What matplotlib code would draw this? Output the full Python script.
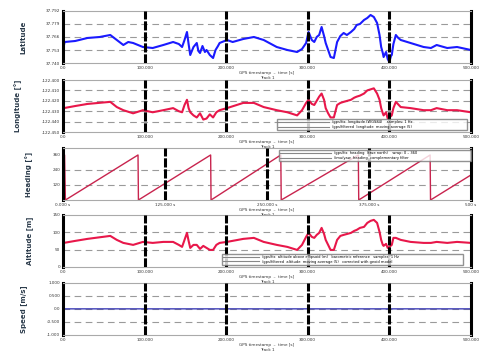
"""Five stacked GPS track panels: latitude, longitude, heading, altitude, vertical speed."""
import matplotlib
matplotlib.use('Agg')
import matplotlib.pyplot as plt
from matplotlib.lines import Line2D

# time stamps [s] for the latitude track
t_lat = [0, 2, 15, 30, 45, 58, 66, 74, 80, 86,
         98, 110, 123, 135, 142, 146, 149, 152, 154, 156,
         160, 164, 166, 168, 171, 174, 176, 180, 184, 187,
         190, 192, 201, 208, 221, 234, 246, 262, 275, 287,
         293, 298, 301, 305, 308, 311, 314, 317, 320, 322,
         325, 328, 332, 336, 340, 344, 348, 353, 357, 360,
         364, 369, 373, 377, 381, 385, 388, 390, 392, 393,
         396, 398, 400, 402, 403, 405, 408, 411, 414, 426,
         442, 451, 458, 471, 483, 500]
lat = [37.753, 37.761, 37.762, 37.765, 37.766, 37.768, 37.763, 37.758, 37.761, 37.760,
       37.756, 37.755, 37.758, 37.761, 37.759, 37.756, 37.763, 37.771, 37.759, 37.748,
       37.756, 37.760, 37.752, 37.750, 37.757, 37.751, 37.753, 37.748, 37.745, 37.753,
       37.757, 37.760, 37.763, 37.761, 37.764, 37.766, 37.763, 37.756, 37.753, 37.751,
       37.754, 37.760, 37.771, 37.763, 37.761, 37.766, 37.768, 37.776, 37.767, 37.760,
       37.753, 37.746, 37.745, 37.761, 37.767, 37.770, 37.768, 37.771, 37.774, 37.778,
       37.779, 37.783, 37.785, 37.788, 37.786, 37.780, 37.768, 37.756, 37.750, 37.746,
       37.751, 37.744, 37.741, 37.747, 37.748, 37.759, 37.768, 37.765, 37.763, 37.760,
       37.756, 37.755, 37.758, 37.755, 37.756, 37.753]

# time stamps [s] for longitude / altitude
t_pos = [0, 1, 15, 30, 58, 66, 74, 86, 98, 110,
         123, 135, 142, 146, 149, 152, 154, 156, 160, 164,
         168, 172, 176, 180, 184, 188, 192, 201, 221, 234,
         246, 262, 275, 287, 293, 298, 301, 305, 308, 311,
         314, 317, 320, 322, 325, 328, 332, 336, 340, 344,
         353, 357, 360, 364, 369, 373, 377, 381, 385, 388,
         390, 392, 393, 396, 398, 400, 403, 405, 408, 414,
         426, 442, 451, 458, 471, 483, 500]
lon = [-122.450, -122.427, -122.425, -122.423, -122.421, -122.426, -122.429, -122.432, -122.429, -122.431,
       -122.429, -122.427, -122.430, -122.431, -122.424, -122.419, -122.427, -122.431, -122.434, -122.436,
       -122.432, -122.438, -122.437, -122.433, -122.436, -122.431, -122.429, -122.427, -122.422, -122.422,
       -122.426, -122.429, -122.431, -122.434, -122.429, -122.422, -122.419, -122.423, -122.424, -122.420,
       -122.416, -122.413, -122.419, -122.427, -122.432, -122.436, -122.436, -122.424, -122.422, -122.421,
       -122.419, -122.417, -122.416, -122.415, -122.413, -122.410, -122.409, -122.408, -122.413, -122.419,
       -122.427, -122.432, -122.434, -122.431, -122.437, -122.436, -122.434, -122.427, -122.421, -122.426,
       -122.427, -122.429, -122.429, -122.427, -122.429, -122.429, -122.431]
alt = [0.0, 69.2, 75.0, 80.8, 89.4, 77.9, 69.2, 63.5, 72.1, 69.2,
       72.1, 72.1, 63.5, 57.7, 77.9, 98.1, 75.0, 54.8, 63.5, 63.5,
       51.9, 60.6, 54.8, 49.0, 49.0, 63.5, 69.2, 72.1, 80.8, 83.7,
       72.1, 63.5, 57.7, 49.0, 63.5, 86.6, 98.1, 86.6, 83.7, 92.3,
       98.1, 112.5, 95.2, 77.9, 63.5, 49.0, 49.0, 77.9, 89.4, 92.3,
       98.1, 103.9, 106.7, 112.5, 115.4, 126.9, 132.7, 135.6, 126.9, 101.0,
       77.9, 63.5, 60.6, 66.4, 54.8, 57.7, 63.5, 83.7, 83.7, 77.9,
       72.1, 69.2, 69.2, 72.1, 69.2, 72.1, 69.2]

# heading wraps 360 -> 0
t_head = [0, 1, 2, 3, 92, 92.5, 181, 181.5, 267, 267.5, 362, 362.5, 450, 450.5, 500]
head = [360, 0, 360, 0, 360, 0, 360, 0, 360, 0, 360, 0, 360, 0, 200]

t_vz = [0, 1, 500]
vz = [-1.0, 0.0, 0.0]

X5 = [0, 100, 200, 300, 400, 500]
X5_LABELS = ['0.0', '100.000', '200.000', '300.000', '400.000', '500.000']
X4 = [0, 125, 250, 375, 500]
X4_LABELS = ['0.000 s', '125.000 s', '250.000 s', '375.000 s', '500 s']
XLABEL = 'GPS timestamp  \u2013  time [s]\nTrack 1'

BLUE = '#1a1aff'
RED = '#e8174a'
GRID = '#9a9a9a'

fig = plt.figure(figsize=(4.88, 3.54), dpi=100)
LEFT, WIDTH = 0.129, 0.836
bottoms = [0.822, 0.627, 0.435, 0.246, 0.054]
HEIGHT = 0.147
axes = [fig.add_axes([LEFT, b, WIDTH, HEIGHT]) for b in bottoms]


def style(ax, xt, xl, yt, yl, ylim, ylabel):
    ax.set_xlim(0, 500)
    ax.set_ylim(*ylim)
    ax.set_xticks(xt)
    ax.set_xticklabels(xl)
    ax.set_yticks(yt)
    ax.set_yticklabels(yl)
    ax.tick_params(length=0, labelsize=3, pad=2, colors='#333333')
    for k in ('top', 'bottom'):
        ax.spines[k].set_color('#aaaaaa')
        ax.spines[k].set_linewidth(0.8)
    for k in ('left', 'right'):
        ax.spines[k].set_color('black')
        ax.spines[k].set_linewidth(2.2)
    for y in yt[1:-1]:
        ax.axhline(y, color=GRID, lw=0.8, ls=(0, (6, 4)), zorder=1)
    for x in xt[1:-1]:
        ax.axvline(x, color='black', lw=2.2, ls=(0, (3, 0.6)), zorder=3)
    ax.set_ylabel(ylabel, fontsize=5, fontweight='bold', color='#2a3a4a', labelpad=14)
    ax.set_xlabel(XLABEL, fontsize=3, color='#333333', labelpad=1)


def box(ax, labels, anchor, hl):
    handles = [Line2D([], [], color='#888888', lw=0.8) for _ in labels]
    ax.legend(handles, labels, loc='lower left', mode='expand', bbox_to_anchor=anchor,
              fontsize=2.6, handlelength=hl, frameon=True, fancybox=False,
              edgecolor='#777777', borderpad=0.3, labelspacing=0.2, borderaxespad=0)


ax = axes[0]
ax.plot(t_lat, lat, color=BLUE, lw=1.5, zorder=2)
yt = [37.740, 37.753, 37.766, 37.779, 37.792]
style(ax, X5, X5_LABELS, yt, [f'{v:.3f}' for v in yt], (37.740, 37.792), 'Latitude')

ax = axes[1]
ax.plot(t_pos, lon, color=RED, lw=1.5, zorder=2)
yt = [-122.450, -122.440, -122.430, -122.420, -122.410, -122.400]
style(ax, X5, X5_LABELS, yt, [f'{v:.3f}' for v in yt], (-122.450, -122.400), 'Longitude [\u00b0]')
box(ax, ['/gps/fix  longitude (WGS84)    samples: 1 Hz',
         '/gps/filtered  longitude  moving average (5)'], (0.525, 0.04, 0.465, 0.2), 14)

ax = axes[2]
ax.plot(t_head, head, color='#c8244e', lw=1.0, zorder=2)
yt = [0, 120, 240, 360]
style(ax, X4, X4_LABELS, yt, ['', '120', '240', '360'], (0, 416), 'Heading [\u00b0]')
box(ax, ['/gps/fix  heading  (true north)    wrap: 0 \u2013 360',
         '/imu/yaw  heading  complementary filter'], (0.53, 0.75, 0.47, 0.25), 14)

ax = axes[3]
ax.plot(t_pos, alt, color=RED, lw=1.5, zorder=2)
yt = [0, 50, 100, 150]
style(ax, X5, X5_LABELS, yt, ['0', '50', '100', '150'], (0, 150), 'Altitude [m]')
box(ax, ['/gps/fix  altitude above ellipsoid (m)   barometric reference   samples: 1 Hz',
         '/gps/filtered  altitude  moving average (5)   corrected with geoid model'],
    (0.39, 0.04, 0.59, 0.3), 10)

ax = axes[4]
ax.plot(t_vz, vz, color='#2a2ab0', lw=0.9, zorder=2)
yt = [-1.0, -0.5, 0.0, 0.5, 1.0]
style(ax, X5, X5_LABELS, yt, ['-1.000', '-0.500', '0.0', '0.500', '1.000'], (-1.0, 1.0), 'Speed [m/s]')

fig.savefig('out.png', dpi=100)
